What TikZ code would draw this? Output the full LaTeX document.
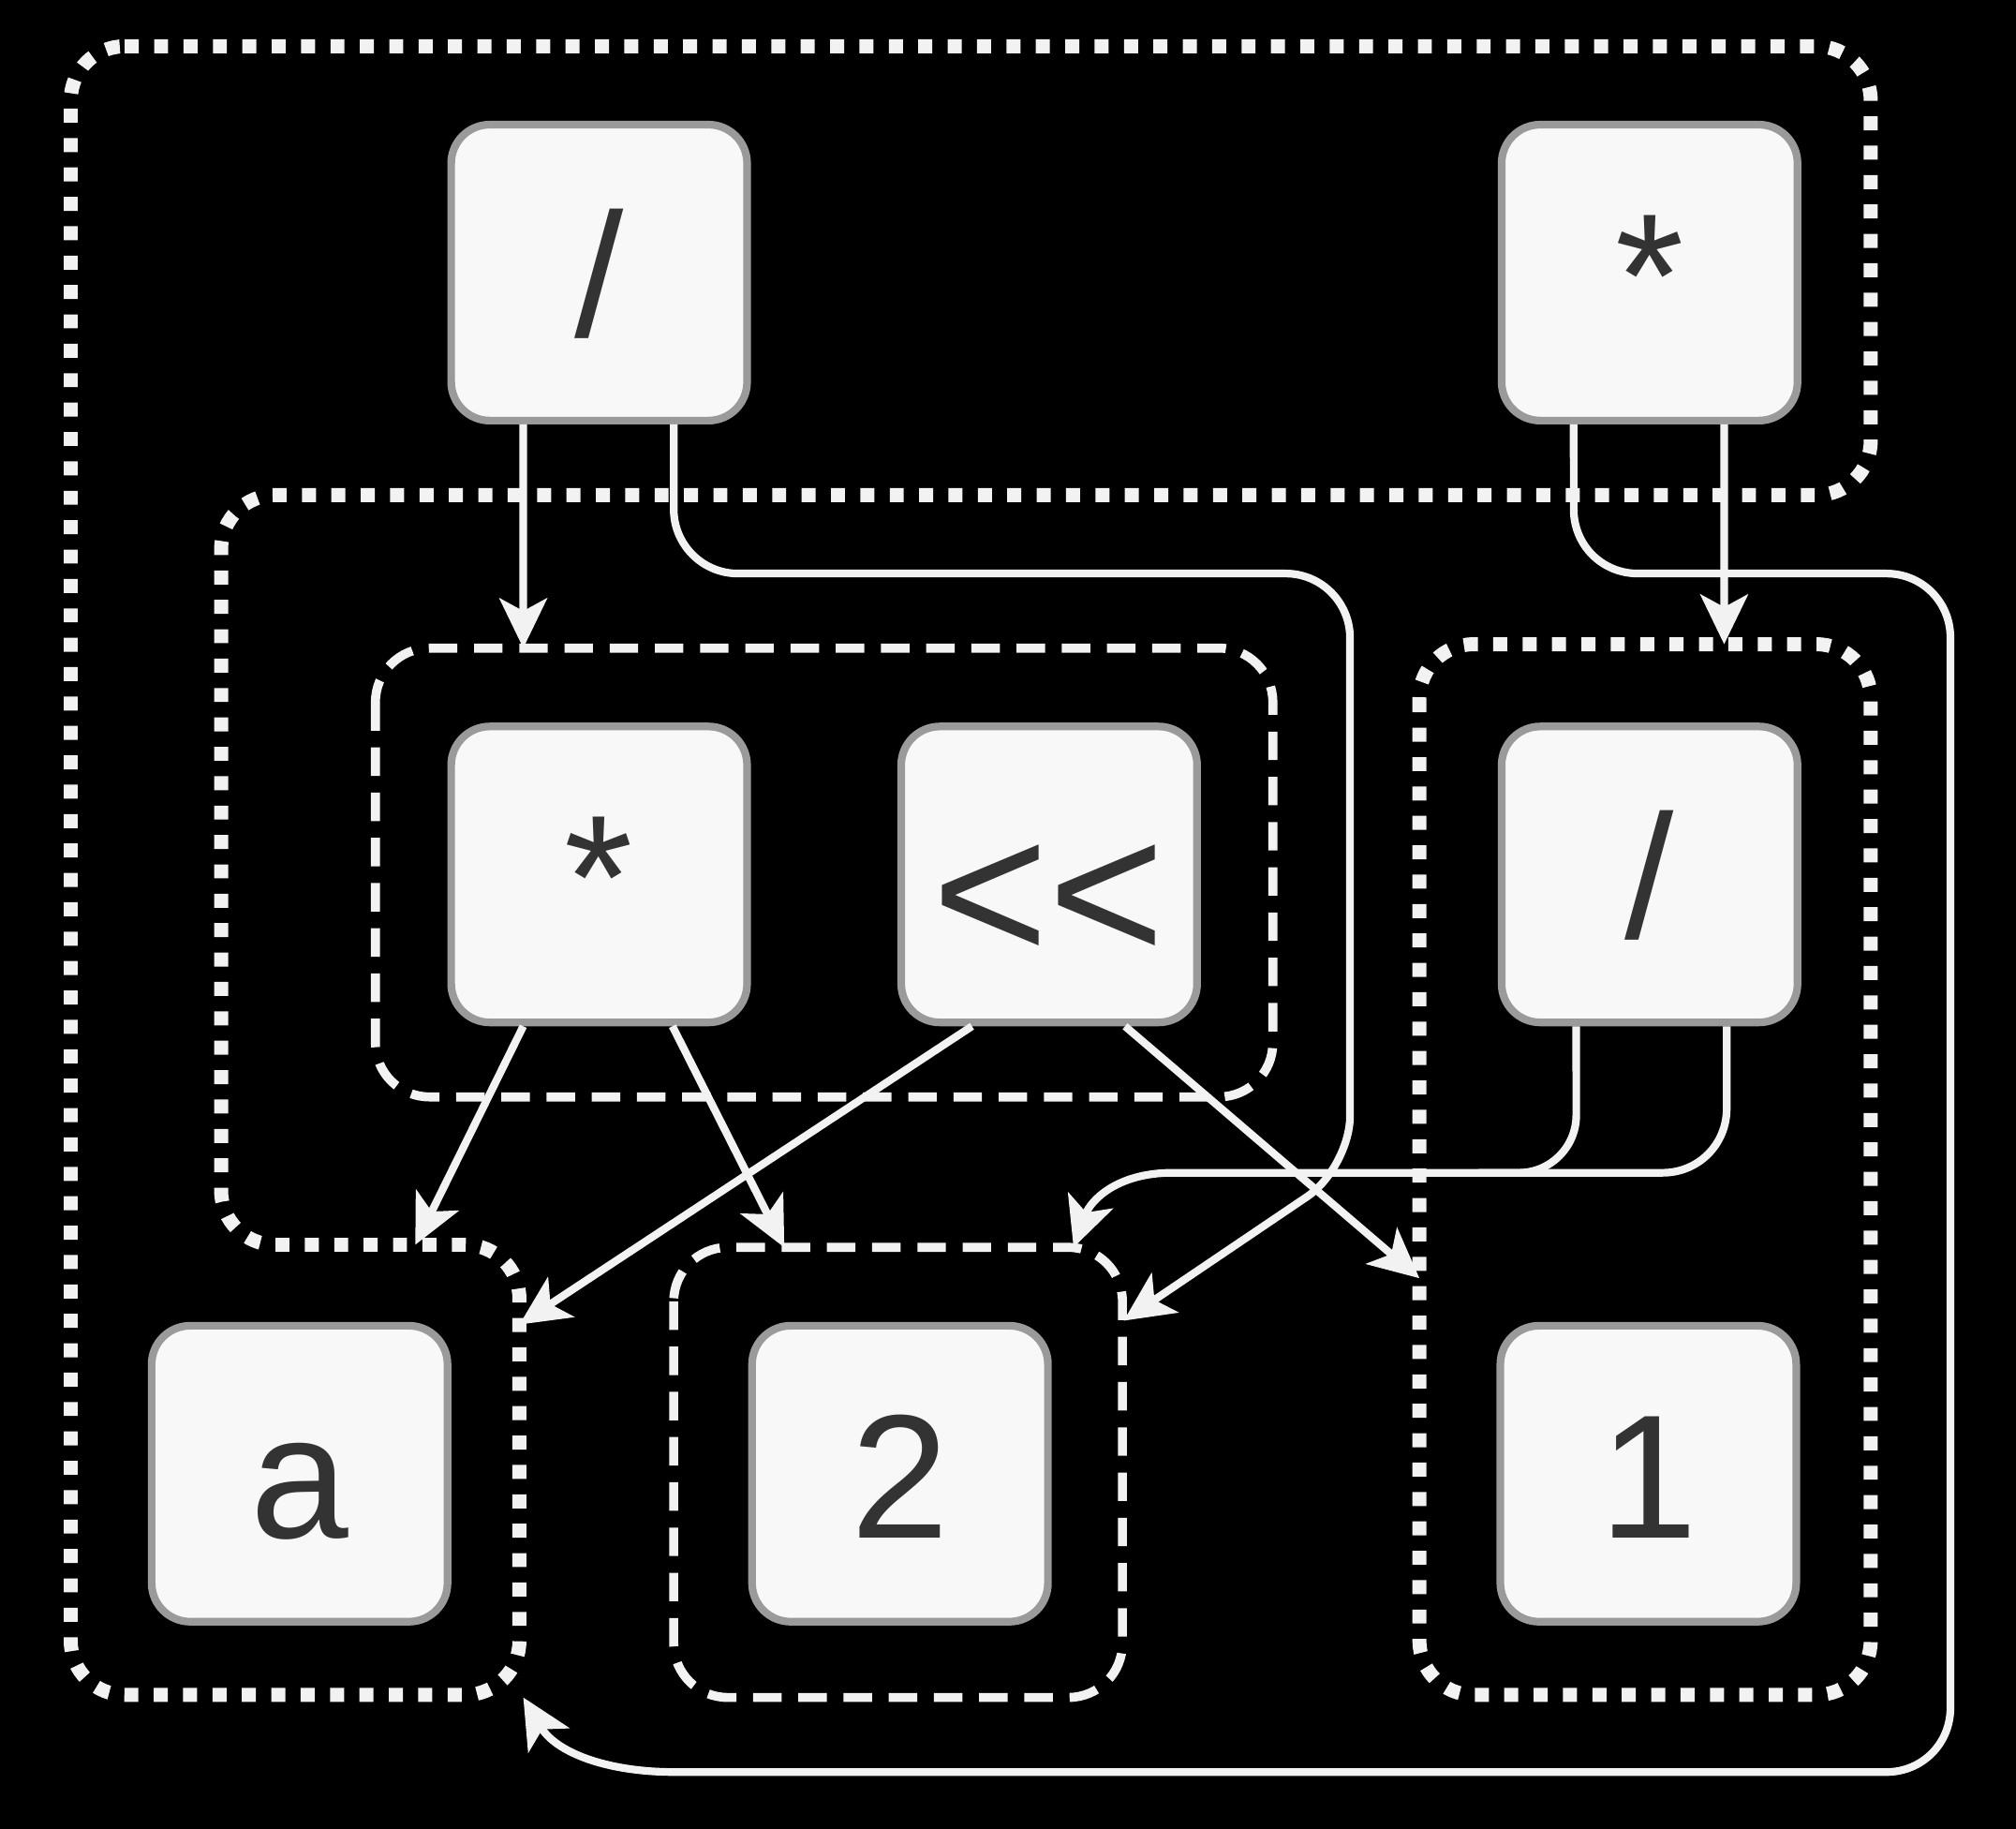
\documentclass[tikz,border=0pt]{standalone}
\usepackage{fontspec}
\setmainfont{Liberation Sans}
\usetikzlibrary{arrows.meta}
\definecolor{ln}{HTML}{F2F2F2}
\definecolor{boxfill}{HTML}{F8F8F8}
\definecolor{boxedge}{HTML}{9A9A9A}
\definecolor{txt}{HTML}{333333}
\begin{document}
\begin{tikzpicture}[x=0.01cm, y=-0.01cm,
  box/.style={draw=boxedge, fill=boxfill, line width=1.7pt, rounded corners=0.3cm,
    minimum width=2.30cm, minimum height=2.30cm, inner sep=0pt,
    text height=28.4pt, text depth=0pt, text=txt, font=\fontsize{39}{46}\selectfont},
  dotbox/.style={draw=ln, line width=3.1pt, dash pattern=on 3.1pt off 3.4pt, rounded corners=0.42cm},
  dashbox/.style={draw=ln, line width=2pt, dash pattern=on 6.3pt off 3.7pt, rounded corners=0.42cm},
  conn/.style={draw=ln, line width=1.7pt},
  arr/.style={conn, -{Stealth[length=11pt, width=10.5pt, inset=2.8pt]}},
]
% background / bounding box
\fill[black] (0,0) rectangle (1568,1422);

% group outlines
\draw[dotbox] (55,36) -- (1455,36) -- (1455,385) -- (172,385) -- (172,968)
  -- (404,968) -- (404,1318) -- (55,1318) -- cycle;
\draw[dashbox] (292,504) rectangle (990,853);
\draw[dotbox] (1104,501) rectangle (1455,1318);
\draw[dashbox] (524,970) rectangle (873,1320);

% arrow targets on group outlines
\coordinate (t1) at (407,504);
\coordinate (t2) at (874,1027);
\coordinate (t3) at (1341,501);
\coordinate (t4) at (407,1320);
\coordinate (t5) at (323,968);
\coordinate (t6) at (610,970);
\coordinate (t7) at (404,1030);
\coordinate (t8) at (1104,994);
\coordinate (t9) at (835,970);

% nodes
\node[box] (d1) at (466,212) {/};
\node[box] (m1) at (1283,212) {*};
\node[box] (m2) at (466,680) {*};
\node[box, font=\fontsize{44}{52}\selectfont] (sh) at (816,680) {\raisebox{-0.17cm}{<\kern0pt<}};
\node[box] (d2) at (1283,680) {/};
\node[box] (a) at (233,1146) {a};
\node[box] (two) at (700,1146) {2};
\node[box] (one) at (1282,1146) {1};

% connectors
\draw[arr] ([xshift=-0.59cm]d1.south) -- (t1);
\draw[arr, rounded corners=0.5cm] ([xshift=0.58cm]d1.south) -- (524,446) -- (1050,446)
  [rounded corners=0.4cm] -- (1050,908) -- (t2);
\draw[arr] ([xshift=0.58cm]m1.south) -- (t3);
\draw[arr] ([xshift=-0.59cm]m1.south) -- (1224,396)
  .. controls (1224,424) and (1246,446) .. (1274,446) -- (1467,446)
  .. controls (1495,446) and (1517,468) .. (1517,496) -- (1517,1328)
  .. controls (1517,1356) and (1495,1378) .. (1467,1378) -- (525,1378)
  .. controls (470,1378) and (432,1362) .. (t4);
\draw[arr] ([xshift=-0.59cm]m2.south) -- (t5);
\draw[arr] ([xshift=0.57cm]m2.south) -- (t6);
\draw[arr] ([xshift=-0.6cm]sh.south) -- (t7);
\draw[arr] ([xshift=0.59cm]sh.south) -- (t8);
\draw[arr] ([xshift=0.6cm]d2.south) -- (1343,862)
  .. controls (1343,890) and (1321,912) .. (1293,912) -- (912,912)
  .. controls (868,912) and (848,934) .. (t9);
\draw[conn] ([xshift=-0.57cm]d2.south) -- (1226,867)
  .. controls (1226,892) and (1206,912) .. (1181,912) -- (1150,912);
\end{tikzpicture}
\end{document}
